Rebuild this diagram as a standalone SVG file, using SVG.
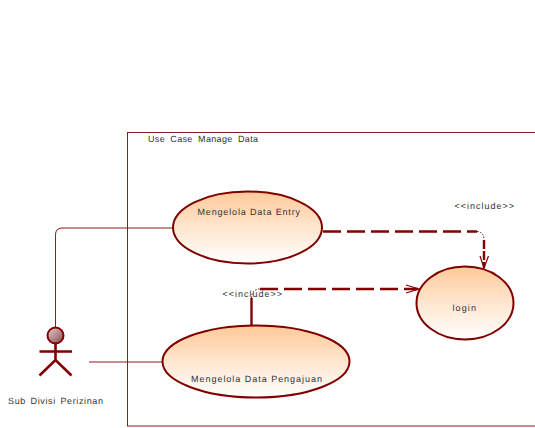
<svg xmlns="http://www.w3.org/2000/svg" width="535" height="428" viewBox="0 0 535 428">
<style>
text{font-family:"Liberation Sans",Arial,sans-serif;font-size:9px;fill:#333;text-rendering:geometricPrecision}
.uc{fill:url(#g);stroke:#800000;stroke-width:2}
.thin{fill:none;stroke:#8b1a1a;stroke-width:1}
.dash{fill:none;stroke:#800000;stroke-width:2.400;stroke-dasharray:18 6}
.solid{fill:none;stroke:#800000;stroke-width:2.400}
.head{fill:none;stroke:#800000;stroke-width:1.200}
.dot{fill:none;stroke:#800000;stroke-width:1;stroke-dasharray:1.500 1.500}
.actor{fill:none;stroke:#800000;stroke-width:2.600}
</style>
<defs>
<linearGradient id="g" x1="0" y1="0" x2="0" y2="1"><stop offset="0" stop-color="#ffc999"/><stop offset="0.500" stop-color="#ffe6d0"/><stop offset="1" stop-color="#ffffff"/></linearGradient>
<linearGradient id="h" x1="0" y1="0" x2="1" y2="1"><stop offset="0" stop-color="#e0d0d0"/><stop offset="1" stop-color="#8b4a4a"/></linearGradient>
</defs>
<rect id="boundary" x="127.500" y="132.500" width="420" height="293.500" fill="none" stroke="#8b1a1a" stroke-width="1"/>
<text x="148" y="142" textLength="110" lengthAdjust="spacing" word-spacing="2.500">Use Case Manage Data</text>
<g id="connectors">
<path class="thin" d="M55.500 327V235Q55.500 228 62 228H173"/>
<path class="thin" d="M89 362H163"/>
<path class="dash" d="M323 231.500H477"/>
<path class="dot" d="M477 231.500Q484 232 484 240"/>
<path class="solid" d="M484 240V268" stroke-dasharray="9 2"/>
<path class="head" d="M480 256L484 268L488.500 256"/>
<path class="solid" d="M251.500 325V298"/>
<path class="dot" d="M251.500 298Q252 289 260 289"/>
<path class="dash" d="M260 289H418"/>
<path class="head" d="M406 285L419 289L406 293"/>
</g>
<g id="actor">
<circle cx="55.500" cy="335.500" r="8" fill="url(#h)" stroke="#800000" stroke-width="2"/>
<path class="actor" d="M55.500 344V360M39.500 351.500H72M39.500 375.500L55.500 360L71.500 375.500"/>
<text x="8" y="404" textLength="95" lengthAdjust="spacing" word-spacing="1.500">Sub Divisi Perizinan</text>
</g>
<g id="uc-entry">
<ellipse class="uc" cx="247.500" cy="227.500" rx="74.500" ry="36"/>
<text x="197.500" y="215" textLength="102.500" lengthAdjust="spacing">Mengelola Data Entry</text>
</g>
<g id="uc-pengajuan">
<ellipse class="uc" cx="256" cy="361.500" rx="93.500" ry="36"/>
<text x="191" y="382" textLength="131" lengthAdjust="spacing">Mengelola Data Pengajuan</text>
</g>
<g id="uc-login">
<ellipse class="uc" cx="465" cy="303" rx="48.500" ry="36.500"/>
<text x="452.500" y="311" textLength="23.500" lengthAdjust="spacing">login</text>
</g>
<text x="454.500" y="209" textLength="59.500" lengthAdjust="spacing">&lt;&lt;include&gt;&gt;</text>
<text x="222.500" y="297" textLength="59.500" lengthAdjust="spacing">&lt;&lt;include&gt;&gt;</text>
</svg>
